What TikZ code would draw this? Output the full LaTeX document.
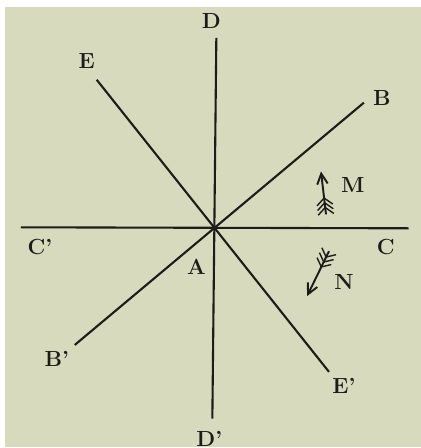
\documentclass[tikz,border=0pt]{standalone}
\usetikzlibrary{calc,arrows.meta}
\definecolor{paper}{RGB}{215,218,188}
\definecolor{ink}{RGB}{28,28,26}
\tikzstyle{letter} = [font=\bfseries\fontsize{12.5}{14}\selectfont, text=ink, inner sep=1pt]
\tikzstyle{axis} = [line width=1.2pt, draw=ink]
\tikzstyle{arrow} = [line width=1.1pt, draw=ink, -{Straight Barb[length=6pt,width=6pt]}]
\tikzstyle{feather} = [line width=0.8pt, draw=ink]

\begin{document}
\begin{tikzpicture}[x=0.02cm, y=-0.02cm]

	\fill[white] (0,0) rectangle (422,448);
	\fill[paper] (5,7) rectangle (422,448);

	\coordinate (A) at (216,229);
	\coordinate (D) at (217,38);
	\coordinate (Dp) at (213,420);
	\coordinate (C) at (410,229);
	\coordinate (Cp) at (21,228);
	\coordinate (B) at (365,103);
	\coordinate (Bp) at (75,346);
	\coordinate (E) at (97,80);
	\coordinate (Ep) at (330,373);

	\node (labD) [letter] at (212,21) {D};
	\node (labDp) [letter] at (210,440) {D'};
	\node (labC) [letter] at (387,248) {C};
	\node (labCp) [letter] at (40,248) {C'};
	\node (labB) [letter] at (383,98) {B};
	\node (labBp) [letter] at (57,360) {B'};
	\node (labE) [letter] at (87,61) {E};
	\node (labEp) [letter] at (345,387) {E'};
	\node (labA) [letter] at (197,268) {A};
	\node (labM) [letter] at (354,186) {M};
	\node (labN) [letter] at (345,283) {N};

	\draw[axis] (D) -- (Dp);
	\draw[axis] (Cp) -- (C);
	\draw[axis] (B) -- (Bp);
	\draw[axis] (E) -- (Ep);

	% the two arrows
	\coordinate (Mtail) at (327,215);
	\coordinate (Mhead) at (322,172);
	\coordinate (Ntail) at (330,252);
	\coordinate (Nhead) at (308,297);

	\draw[arrow] (Mtail) -- (Mhead);
	\draw[arrow] (Ntail) -- (Nhead);

	\foreach \t in {0.0,0.11,0.22} {
		\draw[feather] ($(Mtail)!{\t+0.16}!(Mhead)$) -- ($(Mtail)!\t!(Mhead)!4.5pt!90:(Mhead)$);
		\draw[feather] ($(Mtail)!{\t+0.16}!(Mhead)$) -- ($(Mtail)!\t!(Mhead)!4.5pt!-90:(Mhead)$);
		\draw[feather] ($(Ntail)!{\t+0.13}!(Nhead)$) -- ($(Ntail)!\t!(Nhead)!4.5pt!90:(Nhead)$);
		\draw[feather] ($(Ntail)!{\t+0.13}!(Nhead)$) -- ($(Ntail)!\t!(Nhead)!4.5pt!-90:(Nhead)$);
	}

\end{tikzpicture}
\end{document}
